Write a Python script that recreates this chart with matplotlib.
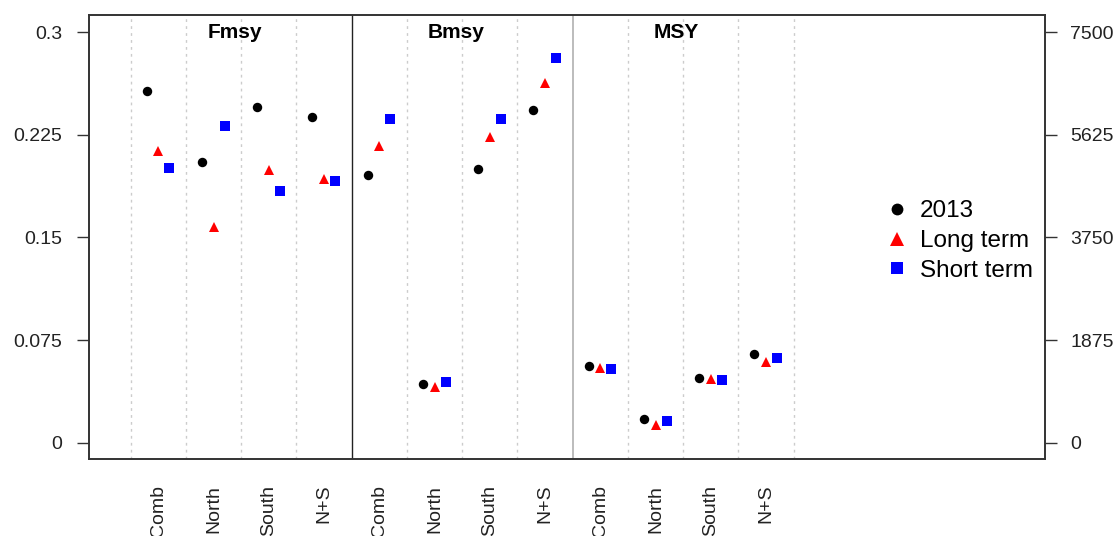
import matplotlib
matplotlib.use("Agg")
from matplotlib import pyplot
import numpy as np

pyplot.rcParams["font.family"] = ["Liberation Sans", "DejaVu Sans"]

regions = ["Comb", "North", "South", "N+S"]
panels = ["Fmsy", "Bmsy", "MSY"]
series = ["2013", "Long term", "Short term"]

# Fmsy on the left axis
fmsy_2013 = [0.257, 0.205, 0.245, 0.238]
fmsy_long = [0.213, 0.158, 0.199, 0.193]
fmsy_short = [0.201, 0.2315, 0.184, 0.1915]

# Bmsy and MSY on the right axis
bmsy_2013 = [4890, 1067, 5000, 6080]
bmsy_long = [5430, 1012, 5590, 6570]
bmsy_short = [5910, 1115, 5920, 7030]

msy_2013 = [1402, 433, 1188, 1621]
msy_long = [1360, 318, 1164, 1475]
msy_short = [1352, 402, 1140, 1548]

left_ticks = [0, 0.075, 0.15, 0.225, 0.3]
right_ticks = [0, 1875, 3750, 5625, 7500]
scale = 25000

colors = ["black", "red", "blue"]
markers = ["o", "^", "s"]
sizes = [6.8, 7.6, 7.0]
offsets = [-0.21, 0.0, 0.2]

fig = pyplot.figure(figsize=(11.19, 5.36), dpi=100)
ax = fig.add_axes([0.0793, 0.1437, 0.8546, 0.8283])
ax2 = ax.twinx()

ylim = (-0.0119, 0.3126)
ax.set_ylim(*ylim)
ax2.set_ylim(ylim[0] * scale, ylim[1] * scale)
ax.set_xlim(-0.76, 16.55)

# separators between categories / panels
for k in range(13):
    if k == 4:
        ax.axvline(k, color="#222222", lw=1.0, zorder=1)
    elif k == 8:
        ax.axvline(k, color="#b0b0b0", lw=1.2, zorder=1)
    else:
        ax.axvline(k, color="#cccccc", lw=1.0, ls=(0, (2, 3)), zorder=1)

centers = np.arange(4) + 0.5
groups = [
    (ax, 0, [fmsy_2013, fmsy_long, fmsy_short]),
    (ax2, 4, [bmsy_2013, bmsy_long, bmsy_short]),
    (ax2, 8, [msy_2013, msy_long, msy_short]),
]
handles = []
for target, start, vals in groups:
    for j, v in enumerate(vals):
        h, = target.plot(
            centers + start + offsets[j],
            v,
            ls="none",
            marker=markers[j],
            color=colors[j],
            markersize=sizes[j],
            markeredgewidth=0,
            zorder=3,
        )
        if start == 0:
            handles.append(h)

for i, name in enumerate(panels):
    ax.text(
        4 * i + 1.88,
        0.3,
        name,
        ha="center",
        va="center",
        fontsize=15,
        fontweight="bold",
        color="black",
    )

ax.set_xticks(np.arange(12) + 0.5)
ax.set_xticklabels(regions * 3, rotation=90, va="top", ha="center")
ax.tick_params(axis="x", length=0, pad=18.5, labelsize=14, labelcolor="#222222")

ax.set_yticks(left_ticks)
ax.set_yticklabels(["0", "0.075", "0.15", "0.225", "0.3"])
ax.tick_params(
    axis="y", length=8.6, width=1, pad=10.5, labelsize=14,
    color="#333333", labelcolor="#222222",
)
ax2.set_yticks(right_ticks)
ax2.tick_params(
    axis="y", length=8.6, width=1, pad=9.4, labelsize=14,
    color="#333333", labelcolor="#222222",
)

for a in (ax, ax2):
    for s in a.spines.values():
        s.set_color("#333333")
        s.set_linewidth(1.2)

ax.legend(
    handles,
    series,
    loc="center left",
    bbox_to_anchor=(0.782, 0.55),
    bbox_transform=fig.transFigure,
    frameon=False,
    fontsize=17.5,
    borderpad=0,
    handlelength=0.8,
    handletextpad=0.55,
    labelspacing=0.32,
    markerscale=1.25,
)

pyplot.savefig("out.png", dpi=100)
